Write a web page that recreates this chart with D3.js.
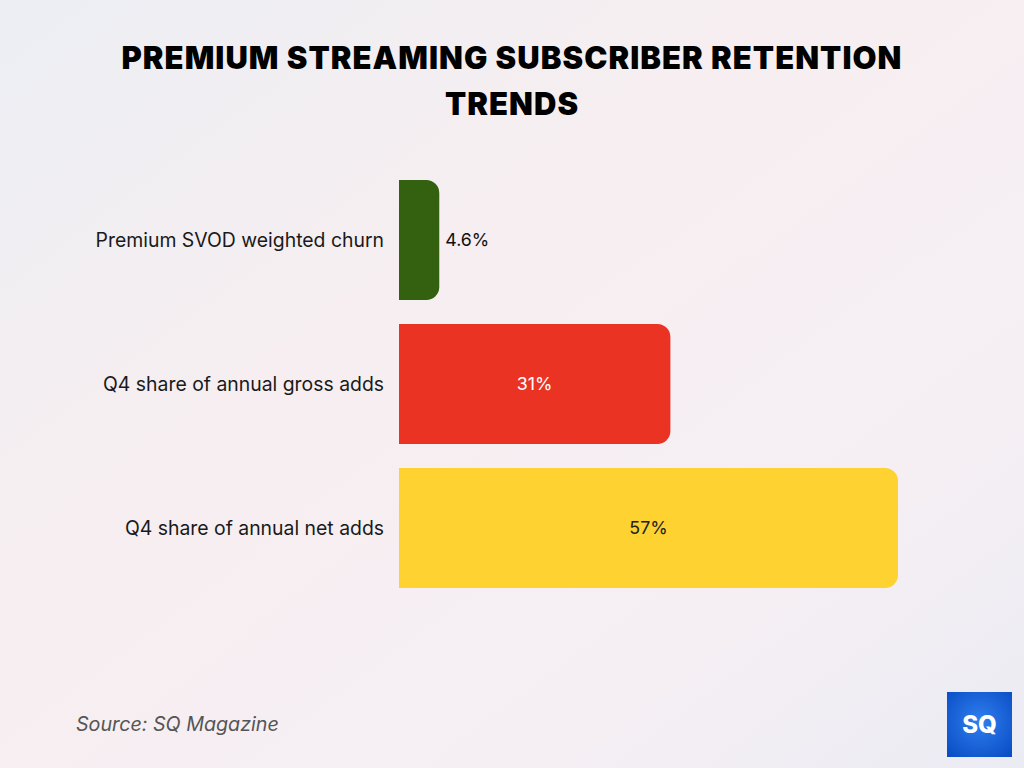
<!DOCTYPE html>
<html>
<head>
<meta charset="utf-8">
<script src="https://cdn.jsdelivr.net/npm/d3@7"></script>
<style>
  html, body { margin: 0; padding: 0; }
  body { width: 1024px; height: 768px; overflow: hidden; }
</style>
</head>
<body>
<div id="chart"></div>
<script>
// chart data
var categories = ["Premium SVOD weighted churn", "Q4 share of annual gross adds", "Q4 share of annual net adds"];
var values = [4.6, 31, 57];
var valueLabels = ["4.6%", "31%", "57%"];
var barColors = ["#33610f", "#ea3323", "#fdd231"];
var labelColors = ["#111111", "#ffffff", "#222222"];

var attrs = {
    width: 1024,
    height: 768,
    barLeft: 399,
    barTop: 180,
    barBottom: 588,
    radius: 13
};

var svg = d3.select("#chart").append("svg")
    .attr("width", attrs.width)
    .attr("height", attrs.height);

// soft background gradient
var defs = svg.append("defs");
var bg = defs.append("linearGradient")
    .attr("id", "bg")
    .attr("x1", "0%").attr("y1", "0%")
    .attr("x2", "100%").attr("y2", "100%");
bg.append("stop").attr("offset", "0%").attr("stop-color", "#eceef4");
bg.append("stop").attr("offset", "40%").attr("stop-color", "#f7eef1");
bg.append("stop").attr("offset", "75%").attr("stop-color", "#f5eff3");
bg.append("stop").attr("offset", "100%").attr("stop-color", "#ebebf3");
svg.append("rect")
    .attr("width", attrs.width)
    .attr("height", attrs.height)
    .attr("fill", "url(#bg)");

// title
var title = svg.append("text")
    .attr("x", 512)
    .attr("text-anchor", "middle")
    .style("font-family", "Inter, 'Liberation Sans', sans-serif")
    .style("font-weight", 900)
    .style("font-size", "31px")
    .style("letter-spacing", "1.05px")
    .attr("fill", "#000");
title.append("tspan").attr("x", 512).attr("y", 69).text("PREMIUM STREAMING SUBSCRIBER RETENTION");
title.append("tspan").attr("x", 512).attr("y", 115).text("TRENDS");

var x = d3.scaleLinear()
    .domain([0, 57])
    .range([attrs.barLeft, attrs.barLeft + 499]);

var y = d3.scaleBand()
    .domain(categories)
    .range([attrs.barTop, attrs.barBottom])
    .paddingInner(24 / 144)
    .paddingOuter(0);

// bar shape: flat on the left, rounded on the right
function barPath(x0, y0, w, h, r) {
    r = Math.min(r, w / 2, h / 2);
    return "M" + x0 + "," + y0 +
        "H" + (x0 + w - r) +
        "A" + r + "," + r + " 0 0 1 " + (x0 + w) + "," + (y0 + r) +
        "V" + (y0 + h - r) +
        "A" + r + "," + r + " 0 0 1 " + (x0 + w - r) + "," + (y0 + h) +
        "H" + x0 + "Z";
}

var rows = svg.append("g").attr("class", "chartg")
    .selectAll(".row")
    .data(categories)
    .enter().append("g")
    .attr("class", "row");

rows.append("path")
    .attr("d", function(d, i) {
        return barPath(x(0), y(d), x(values[i]) - x(0), y.bandwidth(), attrs.radius);
    })
    .attr("fill", function(d, i) { return barColors[i]; });

// category labels
rows.append("text")
    .attr("x", x(0) - 15)
    .attr("y", function(d) { return y(d) + y.bandwidth() / 2; })
    .attr("dy", "0.35em")
    .attr("text-anchor", "end")
    .style("font-family", "Inter, 'Open Sans', sans-serif")
    .style("font-size", "19.4px")
    .attr("fill", "#1a1a1a")
    .text(function(d) { return d; });

// value labels - small bars get it outside
rows.append("text")
    .attr("x", function(d, i) {
        return values[i] < 10 ? x(values[i]) + 6 : (x(0) + x(values[i])) / 2;
    })
    .attr("y", function(d) { return y(d) + y.bandwidth() / 2; })
    .attr("dy", "0.35em")
    .attr("text-anchor", function(d, i) { return values[i] < 10 ? "start" : "middle"; })
    .style("font-family", "Inter, 'Open Sans', sans-serif")
    .style("font-size", "17.8px")
    .attr("fill", function(d, i) { return labelColors[i]; })
    .text(function(d, i) { return valueLabels[i]; });

// source
svg.append("text")
    .attr("x", 76)
    .attr("y", 731)
    .style("font-family", "Inter, 'Open Sans', sans-serif")
    .style("font-style", "italic")
    .style("font-size", "19.7px")
    .attr("fill", "#555")
    .text("Source: SQ Magazine");

// logo
var logoGrad = defs.append("radialGradient").attr("id", "logoGrad")
    .attr("cx", "50%").attr("cy", "45%").attr("r", "70%");
logoGrad.append("stop").attr("offset", "0%").attr("stop-color", "#2f7ff0");
logoGrad.append("stop").attr("offset", "100%").attr("stop-color", "#0a4dc4");
var logo = svg.append("g").attr("transform", "translate(947,692)");
logo.append("rect")
    .attr("width", 65)
    .attr("height", 65)
    .attr("fill", "url(#logoGrad)");
logo.append("text")
    .attr("x", 32.5)
    .attr("y", 41)
    .attr("text-anchor", "middle")
    .style("font-family", "Inter, sans-serif")
    .style("font-weight", 800)
    .style("font-size", "24px")
    .attr("fill", "#fff")
    .text("SQ");
</script>
</body>
</html>
